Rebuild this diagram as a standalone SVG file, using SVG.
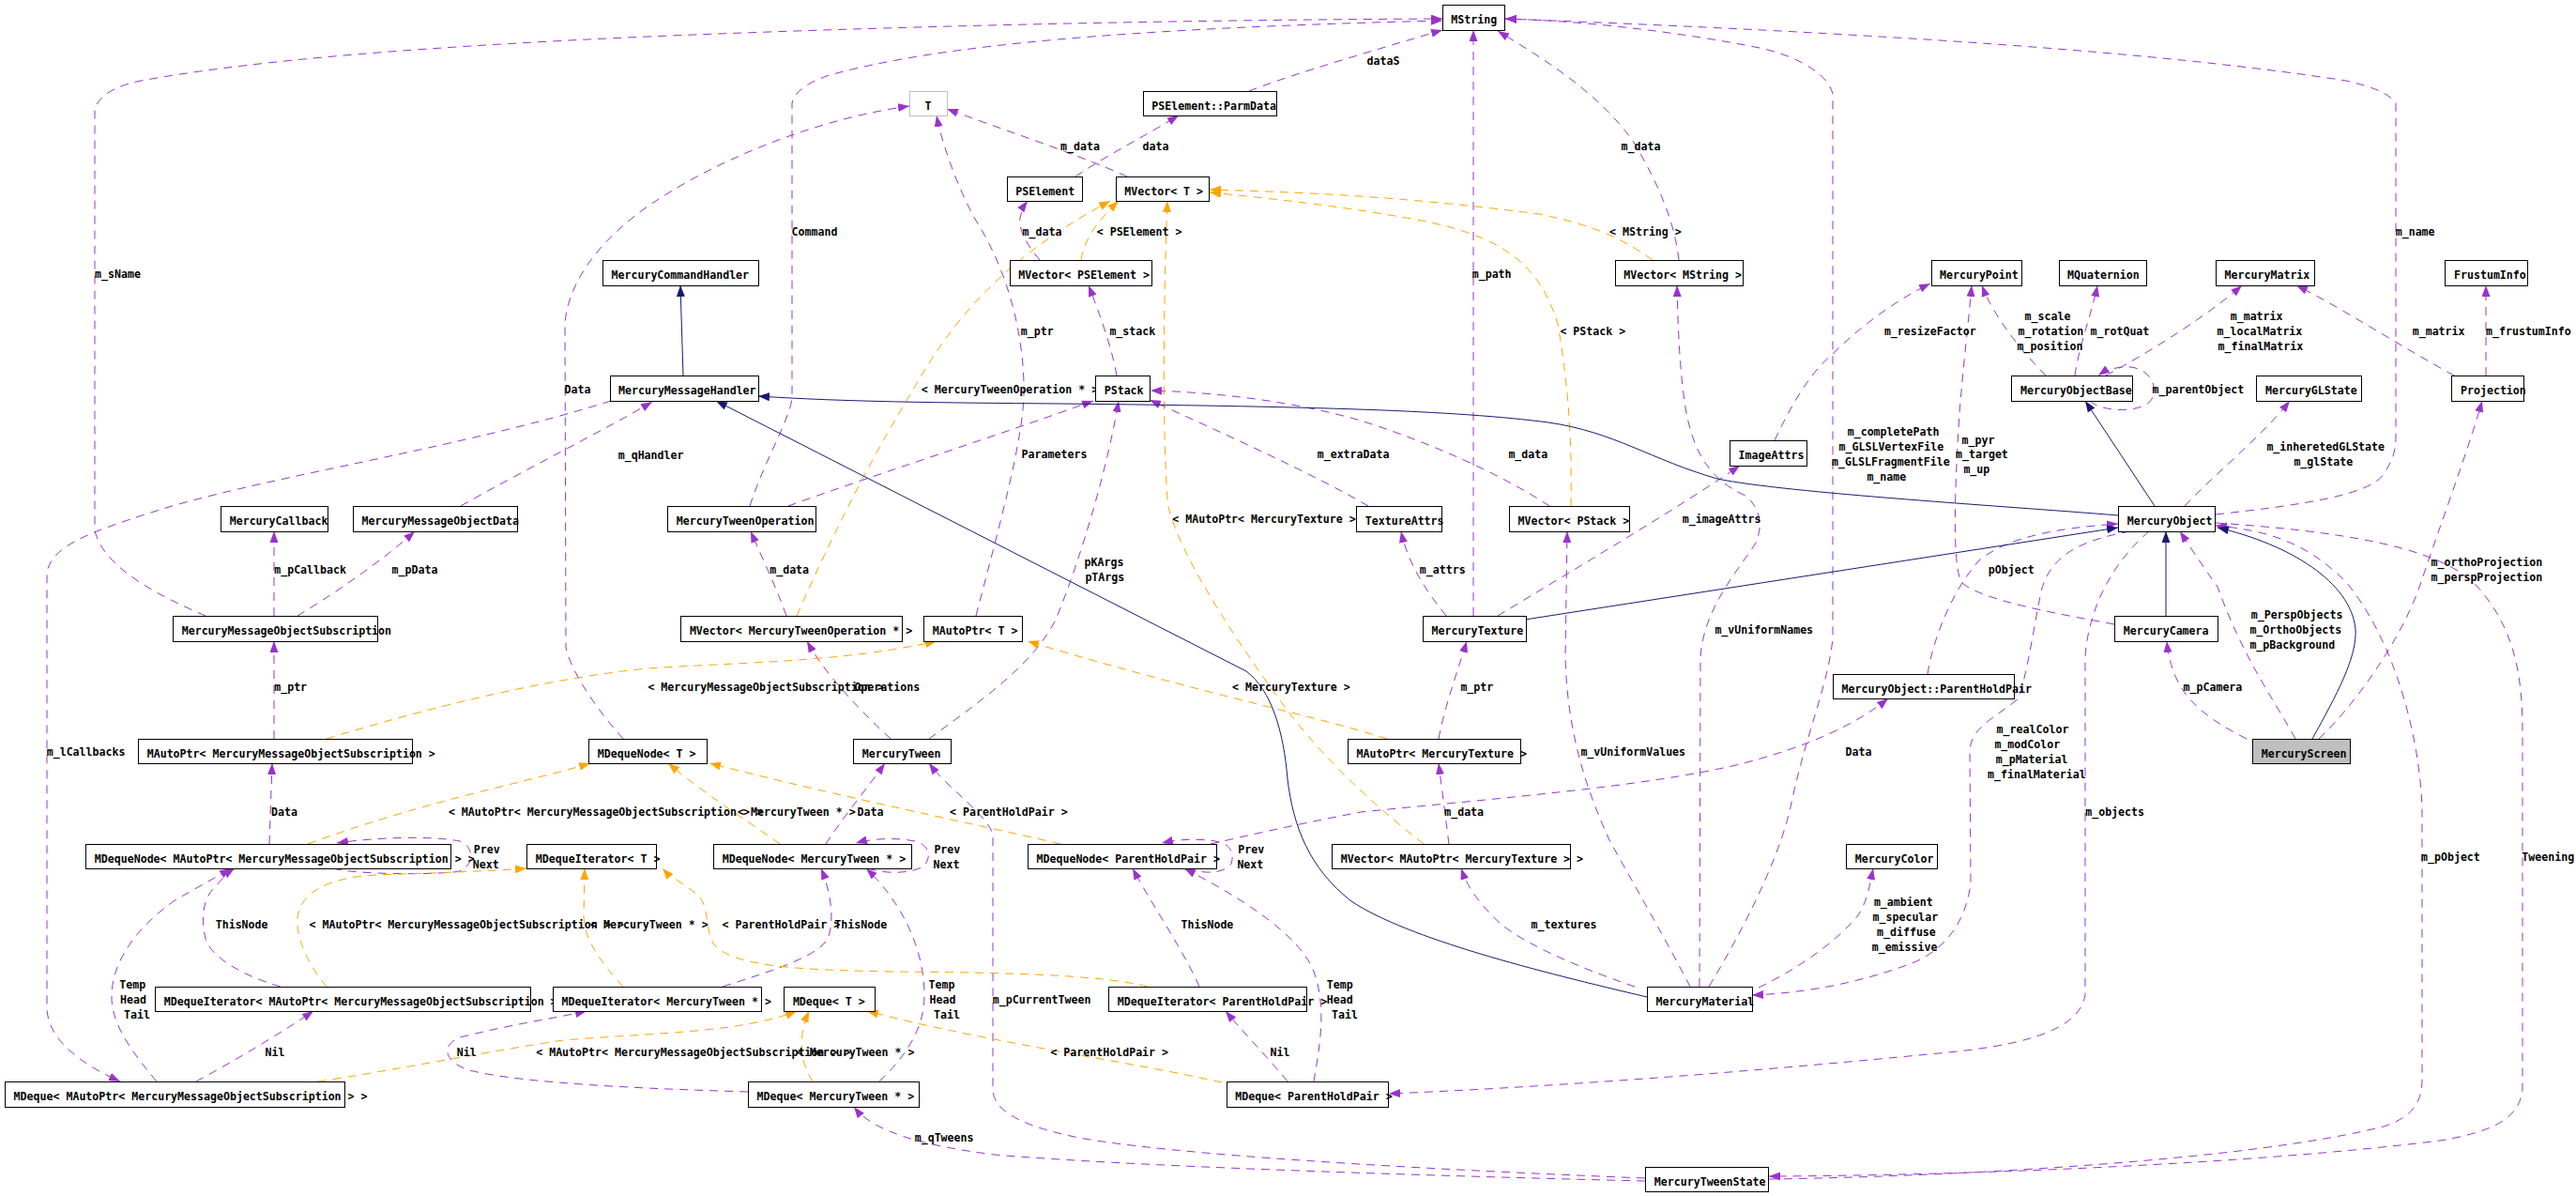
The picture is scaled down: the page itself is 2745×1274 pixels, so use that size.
<svg xmlns="http://www.w3.org/2000/svg" width="2745" height="1274" viewBox="0 0 2745 1274">
<style>
rect{fill:#fff;stroke:#000;stroke-width:1}
text{font-family:"DejaVu Sans Mono","Liberation Mono",monospace;font-size:11.6px;font-weight:bold;fill:#000}
.p{fill:none;stroke:#9a32cd;stroke-width:1;stroke-dasharray:9,7;marker-end:url(#ap)}
.o{fill:none;stroke:#ffa500;stroke-width:1;stroke-dasharray:9,7;marker-end:url(#ao)}
.b{fill:none;stroke:#191970;stroke-width:1;marker-end:url(#ab)}
</style>
<defs>
<marker id="ap" viewBox="0 0 12 9" refX="12" refY="4.5" markerWidth="12" markerHeight="9" markerUnits="userSpaceOnUse" orient="auto"><path d="M0,0 L12,4.5 L0,9 z" fill="#9a32cd"/></marker>
<marker id="ao" viewBox="0 0 12 9" refX="12" refY="4.5" markerWidth="12" markerHeight="9" markerUnits="userSpaceOnUse" orient="auto"><path d="M0,0 L12,4.5 L0,9 z" fill="#ffa500"/></marker>
<marker id="ab" viewBox="0 0 12 9" refX="12" refY="4.5" markerWidth="12" markerHeight="9" markerUnits="userSpaceOnUse" orient="auto"><path d="M0,0 L12,4.5 L0,9 z" fill="#191970"/></marker>
</defs>
<rect x="0" y="0" width="2745" height="1274" style="stroke:none;fill:#fff"/>
<g id="edges">
<path class="p" d="M219,656 C170,635 110,605 101,565 L101,118 C103,104 120,92 150,86 C250,68 400,52 690,39 C1000,26 1300,21 1537,20"/>
<path class="p" d="M799,539 C815,490 840,450 844,425 L844,110 C846,98 860,88 884,80 C1000,48 1200,30 1537,22"/>
<path class="p" d="M1331,97 C1380,78 1460,55 1537,32"/>
<path class="p" d="M1570,656 L1570,32"/>
<path class="p" d="M1789,277 C1785,240 1770,200 1740,150 C1700,95 1640,60 1596,33"/>
<path class="p" d="M1821,1051 C1870,970 1900,900 1909,855 C1925,780 1948,730 1953,680 L1953,100 C1948,80 1920,62 1880,52 C1780,32 1680,22 1604,20"/>
<path class="p" d="M2361,548 C2450,538 2525,528 2540,505 C2550,490 2553,480 2553,465 L2553,110 C2545,98 2525,92 2500,86 C2300,55 2000,35 1604,20"/>
<path class="p" d="M1146,188 C1180,165 1220,145 1256,123"/>
<path class="p" d="M1201,188 C1150,165 1060,135 1009,116"/>
<path class="p" d="M1108,277 C1095,262 1085,245 1087,232 C1089,224 1092,218 1095,214"/>
<path class="p" d="M1040,656 C1065,560 1090,470 1091,420 C1092,360 1075,290 1040,235 C1020,200 1003,150 998,123"/>
<path class="p" d="M1190,400 C1185,370 1170,330 1160,304"/>
<path class="p" d="M840,539 C920,510 1060,465 1165,427"/>
<path class="p" d="M990,787 C1040,750 1100,710 1125,660 C1150,600 1180,500 1192,427"/>
<path class="p" d="M1458,539 C1400,505 1300,460 1225,426"/>
<path class="p" d="M1651,539 C1600,505 1520,470 1450,448 C1380,428 1300,418 1226,416"/>
<path class="p" d="M491,539 C560,500 650,455 695,428"/>
<path class="p" d="M651,427 C500,475 300,505 180,540 C100,565 55,580 50,610 L50,1075 C52,1110 90,1135 128,1152"/>
<path class="p" d="M292,787 L292,683"/>
<path class="p" d="M292,656 L292,566"/>
<path class="p" d="M317,656 C360,630 410,595 442,566"/>
<path class="p" d="M287,899 L290,813"/>
<path class="p" d="M664,787 C640,760 610,720 603,690 L602,345 C605,300 640,255 690,220 C770,165 880,125 969,113"/>
<path class="p" d="M838,656 C825,620 810,590 800,566"/>
<path class="p" d="M949,787 C920,760 880,720 860,683"/>
<path class="p" d="M880,899 C895,875 920,845 943,813"/>
<path class="p" d="M1753,1255 C1500,1245 1250,1230 1150,1212 C1080,1198 1058,1180 1058,1160 L1058,890 C1055,870 1010,840 990,813"/>
<path class="p" d="M1753,1258 C1500,1252 1200,1242 1060,1230 C980,1220 930,1205 910,1179"/>
<path class="p" d="M2361,557 C2480,565 2600,580 2640,625 C2680,670 2688,720 2688,780 L2688,1160 C2685,1190 2660,1205 2600,1215 C2400,1240 2100,1252 1885,1253"/>
<path class="p" d="M1885,1256 C2100,1253 2400,1235 2540,1200 C2570,1190 2581,1175 2581,1150 L2581,860 C2578,780 2550,680 2500,620 C2460,580 2420,565 2361,560"/>
<path class="p" d="M2180,400 C2160,380 2125,340 2112,304"/>
<path class="p" d="M2211,400 C2215,370 2230,330 2235,304"/>
<path class="p" d="M2244,400 C2300,370 2360,330 2389,304"/>
<path class="p" d="M2615,400 C2560,370 2490,325 2447,304"/>
<path class="p" d="M2649,400 L2649,304"/>
<path class="p" d="M2227,427 C2240,440 2285,440 2293,425 C2300,410 2290,393 2270,391 C2255,390 2243,395 2236,400"/>
<path class="p" d="M2328,539 C2360,505 2410,465 2440,427"/>
<path class="p" d="M2253,665 C2200,655 2110,640 2090,620 C2080,600 2083,520 2088,440 C2093,380 2098,340 2101,304"/>
<path class="p" d="M1891,469 C1905,440 1925,400 1953,377 C1990,340 2030,315 2057,302"/>
<path class="p" d="M1596,656 C1680,605 1790,540 1854,496"/>
<path class="p" d="M1541,656 C1520,630 1500,600 1493,566"/>
<path class="p" d="M1533,787 C1540,750 1555,710 1563,683"/>
<path class="p" d="M1544,899 L1533,813"/>
<path class="p" d="M1742,1051 C1680,1030 1610,1000 1590,975 C1570,955 1562,940 1557,925"/>
<path class="p" d="M1801,1051 C1780,1010 1740,940 1715,895 C1690,840 1670,780 1668,700 L1670,566"/>
<path class="p" d="M1811,1051 L1812,700 C1815,650 1850,610 1870,580 C1880,560 1875,540 1860,528 C1820,510 1805,480 1797,440 C1790,400 1788,350 1787,304"/>
<path class="p" d="M2270,566 C2220,575 2185,590 2175,630 C2165,680 2160,720 2150,745 C2125,765 2100,775 2099,800 L2100,940 C2095,985 2070,1012 2040,1025 C1980,1048 1920,1058 1867,1060"/>
<path class="p" d="M1874,1052 C1920,1030 1960,1000 1980,975 C1990,960 1993,940 1996,925"/>
<path class="p" d="M2290,566 C2250,600 2225,650 2222,700 L2222,1060 C2215,1100 2150,1115 2055,1123 C1850,1143 1650,1158 1480,1165"/>
<path class="p" d="M2054,718 C2060,680 2080,630 2108,598 C2140,570 2200,562 2257,558"/>
<path class="p" d="M1290,899 C1330,890 1372,880 1450,865 C1600,850 1750,838 1850,815 C1930,795 1980,770 2012,744"/>
<path class="p" d="M355,925 C380,932 470,932 490,928 C505,922 506,902 490,896 C460,890 400,892 359,898"/>
<path class="p" d="M925,925 C945,932 975,930 985,922 C993,912 990,900 975,896 C955,892 930,893 912,898"/>
<path class="p" d="M1265,925 C1285,932 1305,930 1312,920 C1316,908 1310,898 1295,896 C1275,893 1255,894 1238,898"/>
<path class="p" d="M167,1152 C140,1120 118,1090 119,1060 C120,1020 150,985 185,960 C210,945 230,935 246,925"/>
<path class="p" d="M299,1051 C260,1040 225,1020 219,1000 C213,975 218,955 229,945 C235,938 242,930 250,925"/>
<path class="p" d="M209,1152 C250,1130 300,1100 334,1077"/>
<path class="p" d="M797,1163 C700,1160 560,1155 500,1140 C470,1130 472,1112 490,1105 C550,1090 590,1085 625,1077"/>
<path class="p" d="M937,1152 C960,1130 985,1100 985,1060 C985,1010 960,960 923,925"/>
<path class="p" d="M770,1051 C820,1035 870,1020 882,1000 C890,980 885,950 875,925"/>
<path class="p" d="M1278,1051 C1260,1010 1225,960 1207,925"/>
<path class="p" d="M1372,1152 C1350,1125 1325,1100 1306,1077"/>
<path class="p" d="M1400,1152 C1405,1120 1415,1075 1400,1035 C1385,995 1320,955 1262,925"/>
<path class="p" d="M2446,787 C2420,740 2390,700 2363,625 C2345,600 2332,580 2323,566"/>
<path class="p" d="M2394,787 C2360,770 2330,750 2318,720 C2312,705 2310,695 2309,683"/>
<path class="p" d="M2471,787 C2510,750 2560,680 2580,620 C2600,560 2630,480 2645,427"/>
<path class="o" d="M849,656 C900,540 940,470 970,420 C1010,350 1060,280 1183,214"/>
<path class="o" d="M1152,277 C1155,255 1170,235 1192,214"/>
<path class="o" d="M1517,899 C1480,870 1420,820 1372,757 C1330,700 1260,600 1245,540 C1238,480 1240,300 1244,214"/>
<path class="o" d="M1761,277 C1730,255 1700,240 1640,228 C1500,210 1400,205 1289,202"/>
<path class="o" d="M1674,539 C1675,480 1673,420 1660,345 C1640,280 1600,250 1504,233 C1420,218 1340,210 1289,205"/>
<path class="o" d="M348,787 C420,765 560,725 690,712 C800,705 900,705 998,683"/>
<path class="o" d="M1478,787 C1440,775 1400,765 1372,758 C1300,740 1200,715 1095,683"/>
<path class="o" d="M328,899 C380,880 430,865 475,853 C530,838 590,825 629,813"/>
<path class="o" d="M831,899 C790,870 750,845 712,813"/>
<path class="o" d="M1130,899 C1050,880 900,850 756,813"/>
<path class="o" d="M348,1051 C330,1030 315,1000 317,978 C320,950 350,935 400,932 C460,930 520,928 561,925"/>
<path class="o" d="M664,1051 C640,1025 622,1000 622,975 L623,925"/>
<path class="o" d="M1223,1051 C1180,1040 1100,1036 950,1035 C850,1033 780,1030 760,1005 C752,990 755,965 745,955 C735,945 715,935 706,925"/>
<path class="o" d="M339,1152 C420,1140 520,1120 600,1108 C700,1100 790,1100 849,1077"/>
<path class="o" d="M866,1152 C855,1135 848,1110 862,1077"/>
<path class="o" d="M1302,1153 C1200,1130 1050,1110 924,1077"/>
<path class="b" d="M728,400 L725,304"/>
<path class="b" d="M2257,549 C2150,540 1900,525 1830,510 C1760,490 1720,460 1650,450 C1550,437 1400,433 1130,430 C1000,429 900,428 808,422"/>
<path class="b" d="M1755,1062 C1640,1035 1500,1000 1440,960 C1395,925 1378,880 1372,830 C1368,780 1355,735 1328,715 L763,427"/>
<path class="b" d="M1625,660 L2257,562"/>
<path class="b" d="M2296,539 L2222,427"/>
<path class="b" d="M2308,656 L2308,566"/>
<path class="b" d="M2464,787 C2490,740 2512,700 2510,670 C2505,620 2440,580 2363,562"/>
</g>
<g id="edge-labels">
<text x="101" y="296">m_sName</text>
<text x="843.5" y="251">Command</text>
<text x="1456.5" y="69">dataS</text>
<text x="1130" y="160">m_data</text>
<text x="1217.6" y="160">data</text>
<text x="1727.6" y="160">m_data</text>
<text x="1089.5" y="251">m_data</text>
<text x="1168.7" y="251">&lt; PSElement &gt;</text>
<text x="1715" y="251">&lt; MString &gt;</text>
<text x="2552.7" y="251">m_name</text>
<text x="1568.7" y="296">m_path</text>
<text x="1087.8" y="357">m_ptr</text>
<text x="1182.4" y="357">m_stack</text>
<text x="1662.4" y="357">&lt; PStack &gt;</text>
<text x="2007.9" y="357">m_resizeFactor</text>
<text x="2157.5" y="341">m_scale</text>
<text x="2150.5" y="357">m_rotation</text>
<text x="2149.6" y="373">m_position</text>
<text x="2227.5" y="357">m_rotQuat</text>
<text x="2376.7" y="341">m_matrix</text>
<text x="2362.6" y="357">m_localMatrix</text>
<text x="2363.5" y="373">m_finalMatrix</text>
<text x="2570.7" y="357">m_matrix</text>
<text x="2649" y="357">m_frustumInfo</text>
<text x="981.7" y="419">&lt; MercuryTweenOperation * &gt;</text>
<text x="601.5" y="419">Data</text>
<text x="2293.5" y="419">m_parentObject</text>
<text x="1968.7" y="464">m_completePath</text>
<text x="1959.5" y="480">m_GLSLVertexFile</text>
<text x="1952" y="496">m_GLSLFragmentFile</text>
<text x="1989.4" y="512">m_name</text>
<text x="2090.6" y="473">m_pyr</text>
<text x="2084" y="488">m_target</text>
<text x="2092.4" y="504">m_up</text>
<text x="2415.4" y="480">m_inheretedGLState</text>
<text x="2444.4" y="496">m_glState</text>
<text x="658.7" y="489">m_qHandler</text>
<text x="1088.6" y="488">Parameters</text>
<text x="1403.7" y="488">m_extraData</text>
<text x="1607.4" y="488">m_data</text>
<text x="1249.3" y="557">&lt; MAutoPtr&lt; MercuryTexture &gt; &gt;</text>
<text x="1792.7" y="557">m_imageAttrs</text>
<text x="292.2" y="611">m_pCallback</text>
<text x="417.6" y="611">m_pData</text>
<text x="820.2" y="611">m_data</text>
<text x="1155.5" y="603">pKArgs</text>
<text x="1156.4" y="619">pTArgs</text>
<text x="1512.8" y="611">m_attrs</text>
<text x="2118.8" y="611">pObject</text>
<text x="2590.5" y="603">m_orthoProjection</text>
<text x="2590.5" y="619">m_perspProjection</text>
<text x="2398.7" y="659">m_PerspObjects</text>
<text x="2397.4" y="675">m_OrthoObjects</text>
<text x="2397.4" y="691">m_pBackground</text>
<text x="1827.4" y="675">m_vUniformNames</text>
<text x="292.2" y="736">m_ptr</text>
<text x="690.4" y="736">&lt; MercuryMessageObjectSubscription &gt;</text>
<text x="910.4" y="736">Operations</text>
<text x="1313" y="736">&lt; MercuryTexture &gt;</text>
<text x="1556.4" y="736">m_ptr</text>
<text x="2326.5" y="736">m_pCamera</text>
<text x="2127.6" y="781">m_realColor</text>
<text x="2125.4" y="797">m_modColor</text>
<text x="2126.7" y="813">m_pMaterial</text>
<text x="2118" y="829">m_finalMaterial</text>
<text x="49.7" y="805">m_lCallbacks</text>
<text x="1684.4" y="805">m_vUniformValues</text>
<text x="1966.5" y="805">Data</text>
<text x="289" y="869">Data</text>
<text x="477.9" y="869">&lt; MAutoPtr&lt; MercuryMessageObjectSubscription &gt; &gt;</text>
<text x="786" y="869">&lt; MercuryTween * &gt;</text>
<text x="913.5" y="869">Data</text>
<text x="1012" y="869">&lt; ParentHoldPair &gt;</text>
<text x="1539.2" y="869">m_data</text>
<text x="2222.2" y="869">m_objects</text>
<text x="504.7" y="909">Prev</text>
<text x="503.8" y="925">Next</text>
<text x="995.4" y="909">Prev</text>
<text x="994.5" y="925">Next</text>
<text x="1319.2" y="909">Prev</text>
<text x="1318.4" y="925">Next</text>
<text x="2580" y="917">m_pObject</text>
<text x="2687.3" y="917">Tweening</text>
<text x="1996.9" y="965">m_ambient</text>
<text x="1995.5" y="981">m_specular</text>
<text x="2000" y="997">m_diffuse</text>
<text x="1994.7" y="1013">m_emissive</text>
<text x="229.7" y="989">ThisNode</text>
<text x="329.6" y="989">&lt; MAutoPtr&lt; MercuryMessageObjectSubscription &gt; &gt;</text>
<text x="629" y="989">&lt; MercuryTween * &gt;</text>
<text x="769.6" y="989">&lt; ParentHoldPair &gt;</text>
<text x="889.3" y="989">ThisNode</text>
<text x="1258.5" y="989">ThisNode</text>
<text x="1631.6" y="989">m_textures</text>
<text x="127.2" y="1053">Temp</text>
<text x="128" y="1069">Head</text>
<text x="132" y="1085">Tail</text>
<text x="989.6" y="1053">Temp</text>
<text x="990.5" y="1069">Head</text>
<text x="995" y="1085">Tail</text>
<text x="1413.8" y="1053">Temp</text>
<text x="1413.8" y="1069">Head</text>
<text x="1419" y="1085">Tail</text>
<text x="1057.8" y="1069">m_pCurrentTween</text>
<text x="282.5" y="1125">Nil</text>
<text x="486.7" y="1125">Nil</text>
<text x="571.2" y="1125">&lt; MAutoPtr&lt; MercuryMessageObjectSubscription &gt; &gt;</text>
<text x="848.8" y="1125">&lt; MercuryTween * &gt;</text>
<text x="1119.4" y="1125">&lt; ParentHoldPair &gt;</text>
<text x="1353.5" y="1125">Nil</text>
<text x="974.7" y="1216">m_qTweens</text>
</g>
<g id="nodes">
<g id="n-MString"><rect x="1537.5" y="5.5" width="66" height="27"/><text x="1546.3" y="24.5">MString</text></g>
<g id="n-T"><rect x="969.5" y="97.5" width="40" height="26" style="stroke:#bfbfbf"/><text x="985.5" y="116.5">T</text></g>
<g id="n-PSElementParmData"><rect x="1218.5" y="97.5" width="142" height="26"/><text x="1227.3" y="116.5">PSElement::ParmData</text></g>
<g id="n-PSElement"><rect x="1073.5" y="188.5" width="80" height="26"/><text x="1082.3" y="207.5">PSElement</text></g>
<g id="n-MVectorT"><rect x="1189.5" y="188.5" width="99" height="26"/><text x="1198.3" y="207.5">MVector&lt; T &gt;</text></g>
<g id="n-MercuryCommandHandler"><rect x="642.5" y="277.5" width="166" height="27"/><text x="651.5" y="296.5">MercuryCommandHandler</text></g>
<g id="n-MVectorPSElement"><rect x="1076.5" y="277.5" width="151" height="27"/><text x="1085.3" y="296.5">MVector&lt; PSElement &gt;</text></g>
<g id="n-MVectorMString"><rect x="1721.5" y="277.5" width="136" height="27"/><text x="1730.3" y="296.5">MVector&lt; MString &gt;</text></g>
<g id="n-MercuryPoint"><rect x="2058.5" y="277.5" width="96" height="27"/><text x="2067" y="296.5">MercuryPoint</text></g>
<g id="n-MQuaternion"><rect x="2194.5" y="277.5" width="93" height="27"/><text x="2203" y="296.5">MQuaternion</text></g>
<g id="n-MercuryMatrix"><rect x="2361.5" y="277.5" width="105" height="27"/><text x="2370.6" y="296.5">MercuryMatrix</text></g>
<g id="n-FrustumInfo"><rect x="2605.5" y="277.5" width="88" height="27"/><text x="2615" y="296.5">FrustumInfo</text></g>
<g id="n-MercuryMessageHandler"><rect x="650.5" y="400.5" width="158" height="27"/><text x="659" y="419.5">MercuryMessageHandler</text></g>
<g id="n-PStack"><rect x="1167.5" y="400.5" width="58" height="27"/><text x="1176.7" y="419.5">PStack</text></g>
<g id="n-MercuryObjectBase"><rect x="2143.5" y="400.5" width="129" height="27"/><text x="2153" y="419.5">MercuryObjectBase</text></g>
<g id="n-MercuryGLState"><rect x="2404.5" y="400.5" width="112" height="27"/><text x="2414" y="419.5">MercuryGLState</text></g>
<g id="n-Projection"><rect x="2612.5" y="400.5" width="77" height="27"/><text x="2622" y="419.5">Projection</text></g>
<g id="n-ImageAttrs"><rect x="1843.5" y="469.5" width="82" height="27"/><text x="1852.6" y="488.5">ImageAttrs</text></g>
<g id="n-MercuryCallback"><rect x="235.5" y="539.5" width="114" height="27"/><text x="244.7" y="558.5">MercuryCallback</text></g>
<g id="n-MercuryMessageObjectData"><rect x="376.5" y="539.5" width="175" height="27"/><text x="385.5" y="558.5">MercuryMessageObjectData</text></g>
<g id="n-MercuryTweenOperation"><rect x="711.5" y="539.5" width="158" height="27"/><text x="720.8" y="558.5">MercuryTweenOperation</text></g>
<g id="n-TextureAttrs"><rect x="1445.5" y="539.5" width="91" height="27"/><text x="1454.8" y="558.5">TextureAttrs</text></g>
<g id="n-MVectorPStack"><rect x="1608.5" y="539.5" width="128" height="27"/><text x="1617.6" y="558.5">MVector&lt; PStack &gt;</text></g>
<g id="n-MercuryObject"><rect x="2257.5" y="539.5" width="103" height="27"/><text x="2266.7" y="558.5">MercuryObject</text></g>
<g id="n-MercuryMessageObjectSubscription"><rect x="184.5" y="656.5" width="218" height="27"/><text x="193.7" y="675.5">MercuryMessageObjectSubscription</text></g>
<g id="n-MVectorMercuryTweenOperation"><rect x="725.5" y="656.5" width="236" height="27"/><text x="734.9" y="675.5">MVector&lt; MercuryTweenOperation * &gt;</text></g>
<g id="n-MAutoPtrT"><rect x="984.5" y="656.5" width="105" height="27"/><text x="993.7" y="675.5">MAutoPtr&lt; T &gt;</text></g>
<g id="n-MercuryTexture"><rect x="1516.5" y="656.5" width="110" height="27"/><text x="1525.6" y="675.5">MercuryTexture</text></g>
<g id="n-MercuryCamera"><rect x="2253.5" y="656.5" width="110" height="27"/><text x="2262.8" y="675.5">MercuryCamera</text></g>
<g id="n-ParentHoldPair"><rect x="1953.5" y="718.5" width="193" height="26"/><text x="1962.6" y="737.5">MercuryObject::ParentHoldPair</text></g>
<g id="n-MAutoPtrMMOS"><rect x="147.5" y="787.5" width="292" height="26"/><text x="156.7" y="806.5">MAutoPtr&lt; MercuryMessageObjectSubscription &gt;</text></g>
<g id="n-MDequeNodeT"><rect x="627.5" y="787.5" width="126" height="26"/><text x="636.8" y="806.5">MDequeNode&lt; T &gt;</text></g>
<g id="n-MercuryTween"><rect x="909.5" y="787.5" width="104" height="26"/><text x="918.8" y="806.5">MercuryTween</text></g>
<g id="n-MAutoPtrMercuryTexture"><rect x="1436.5" y="787.5" width="184" height="26"/><text x="1445.5" y="806.5">MAutoPtr&lt; MercuryTexture &gt;</text></g>
<g id="n-MercuryScreen"><rect x="2400.5" y="787.5" width="104" height="26" style="fill:#bfbfbf"/><text x="2409.7" y="806.5">MercuryScreen</text></g>
<g id="n-MDequeNodeMAutoPtrMMOS"><rect x="91.5" y="899.5" width="389" height="26"/><text x="100.8" y="918.5">MDequeNode&lt; MAutoPtr&lt; MercuryMessageObjectSubscription &gt; &gt;</text></g>
<g id="n-MDequeIteratorT"><rect x="561.5" y="899.5" width="138" height="26"/><text x="570.8" y="918.5">MDequeIterator&lt; T &gt;</text></g>
<g id="n-MDequeNodeMercuryTween"><rect x="760.5" y="899.5" width="211" height="26"/><text x="769.7" y="918.5">MDequeNode&lt; MercuryTween * &gt;</text></g>
<g id="n-MDequeNodeParentHoldPair"><rect x="1095.5" y="899.5" width="201" height="26"/><text x="1104.5" y="918.5">MDequeNode&lt; ParentHoldPair &gt;</text></g>
<g id="n-MVectorMAutoPtrMercuryTexture"><rect x="1419.5" y="899.5" width="254" height="26"/><text x="1428.8" y="918.5">MVector&lt; MAutoPtr&lt; MercuryTexture &gt; &gt;</text></g>
<g id="n-MercuryColor"><rect x="1967.5" y="899.5" width="97" height="26"/><text x="1976.7" y="918.5">MercuryColor</text></g>
<g id="n-MDequeIteratorMAutoPtrMMOS"><rect x="165.5" y="1051.5" width="400" height="26"/><text x="174.8" y="1070.5">MDequeIterator&lt; MAutoPtr&lt; MercuryMessageObjectSubscription &gt; &gt;</text></g>
<g id="n-MDequeIteratorMercuryTween"><rect x="589.5" y="1051.5" width="222" height="26"/><text x="598.5" y="1070.5">MDequeIterator&lt; MercuryTween * &gt;</text></g>
<g id="n-MDequeT"><rect x="835.5" y="1051.5" width="97" height="26"/><text x="844.9" y="1070.5">MDeque&lt; T &gt;</text></g>
<g id="n-MDequeIteratorParentHoldPair"><rect x="1181.5" y="1051.5" width="211" height="26"/><text x="1190.8" y="1070.5">MDequeIterator&lt; ParentHoldPair &gt;</text></g>
<g id="n-MercuryMaterial"><rect x="1755.5" y="1051.5" width="112" height="26"/><text x="1764.6" y="1070.5">MercuryMaterial</text></g>
<g id="n-MDequeMAutoPtrMMOS"><rect x="5.5" y="1152.5" width="362" height="27"/><text x="14.6" y="1171.5">MDeque&lt; MAutoPtr&lt; MercuryMessageObjectSubscription &gt; &gt;</text></g>
<g id="n-MDequeMercuryTween"><rect x="797.5" y="1152.5" width="182" height="27"/><text x="806.6" y="1171.5">MDeque&lt; MercuryTween * &gt;</text></g>
<g id="n-MDequeParentHoldPair"><rect x="1307.5" y="1152.5" width="172" height="27"/><text x="1316.2" y="1171.5">MDeque&lt; ParentHoldPair &gt;</text></g>
<g id="n-MercuryTweenState"><rect x="1753.5" y="1243.5" width="131" height="26"/><text x="1762.8" y="1262.5">MercuryTweenState</text></g>
</g>
</svg>
